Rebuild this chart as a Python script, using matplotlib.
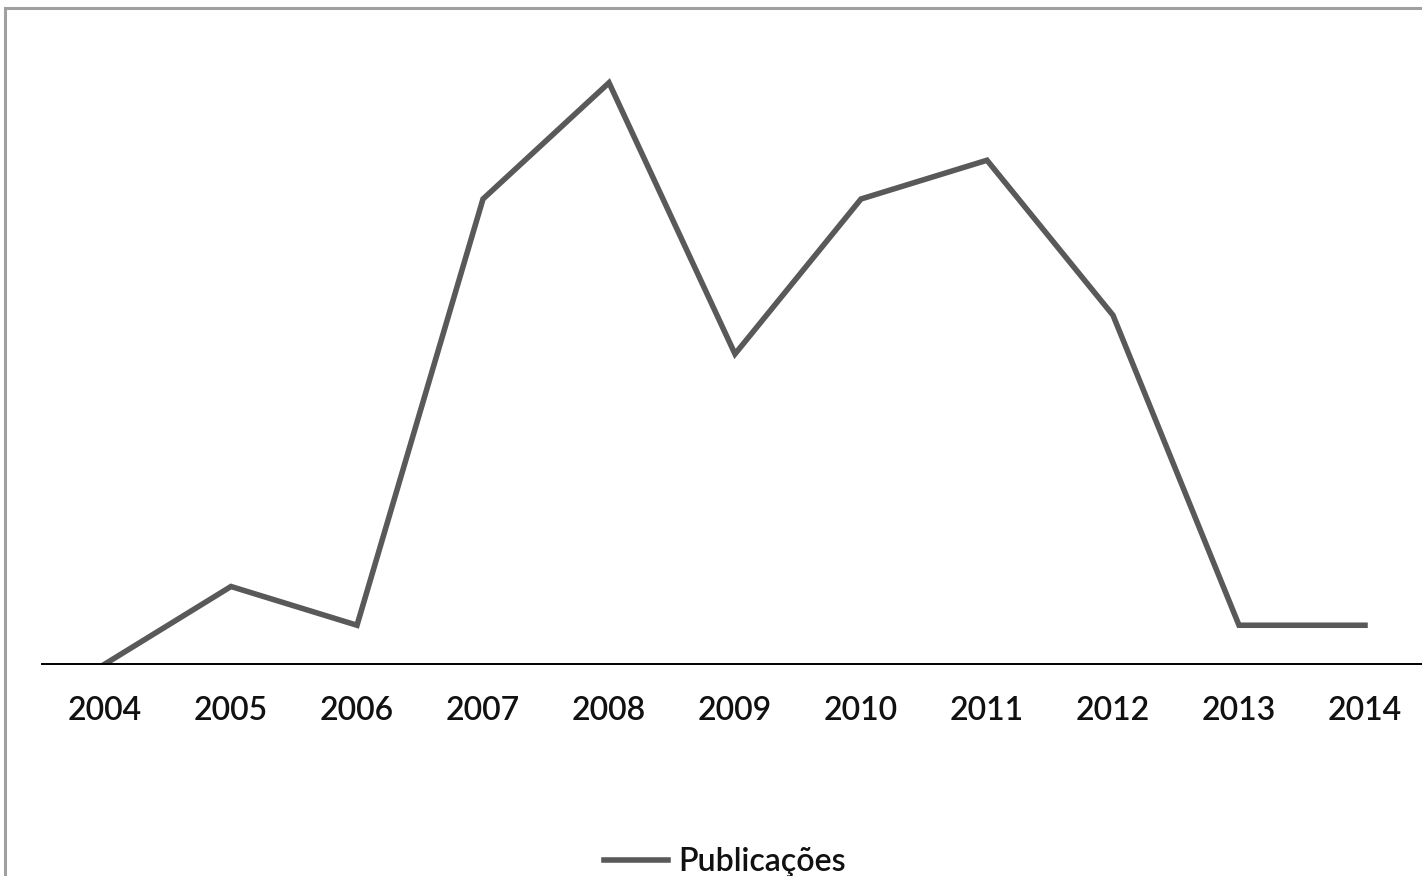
import matplotlib.pyplot as plt
import matplotlib.patches as mpatches

anos = ['2004', '2005', '2006', '2007', '2008', '2009', '2010', '2011', '2012', '2013', '2014']
publicacoes = [0, 2, 1, 12, 15, 8, 12, 13, 9, 1, 1]

W, H = 1422, 876
fig = plt.figure(figsize=(W / 100, H / 100), dpi=100)
plt.rcParams['font.family'] = ['Lato', 'DejaVu Sans']

# outer frame (cut off at right and bottom)
fig.patches.append(mpatches.Rectangle((5 / W, -0.1), 1.2, 1 - 8 / H + 0.1,
                                      transform=fig.transFigure, fill=False,
                                      edgecolor='#a0a0a0', linewidth=2.2))

ax = fig.add_axes([42 / W, 212 / H, 1386 / W, 620 / H])
x = range(len(anos))
ax.plot(x, publicacoes, color='#595959', linewidth=4.0, solid_joinstyle='miter',
        label='Publicações')
ax.set_xlim(-0.5, len(anos) - 0.5)
ax.set_ylim(0, 16)
ax.set_xticks(list(x))
ax.set_xticklabels(anos, fontsize=23, color='#111111', fontweight='semibold')
ax.tick_params(axis='x', length=0, pad=23)
ax.set_yticks([])
for s in ['top', 'right', 'left']:
    ax.spines[s].set_visible(False)
ax.spines['bottom'].set_linewidth(1.4)
ax.spines['bottom'].set_color('black')

fig.legend(loc='center', bbox_to_anchor=(725 / W, 1 - 862 / H), frameon=False,
           prop={'size': 23, 'weight': 'semibold'}, handlelength=2.0,
           handletextpad=0.3, labelcolor='#111111')

fig.savefig('out.png', dpi=100)
